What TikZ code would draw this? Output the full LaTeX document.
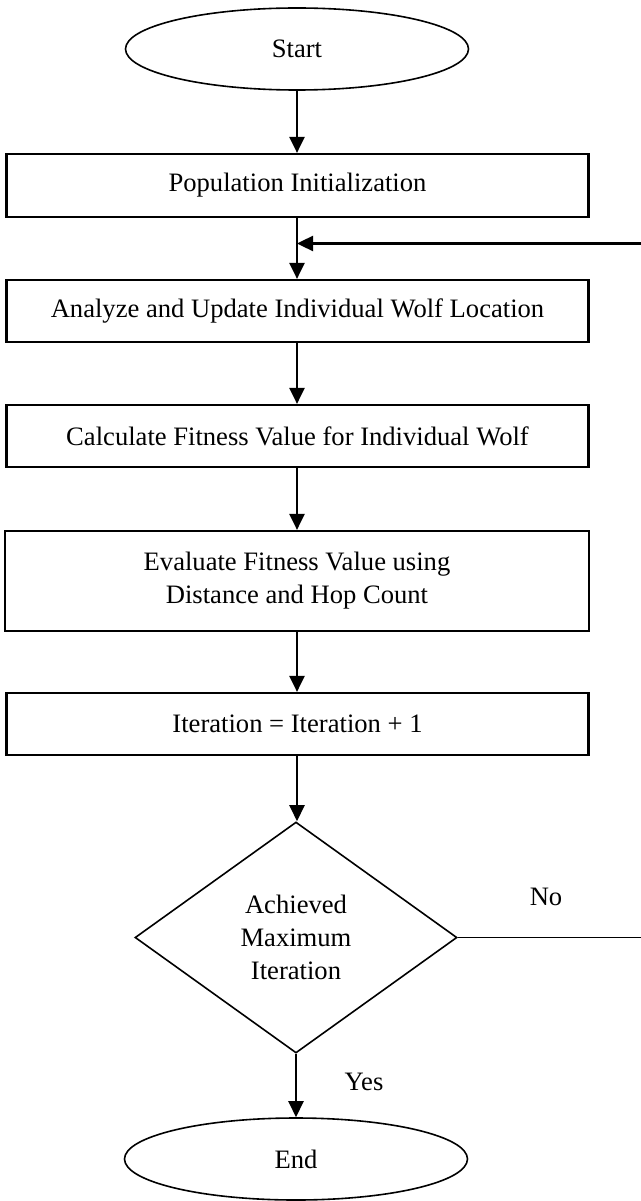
\documentclass[tikz,border=0pt]{standalone}
\usepackage{fontspec}
\setmainfont{Liberation Serif}
\usetikzlibrary{shapes.geometric,arrows.meta}
\tikzset{
  txt/.style={font=\fontsize{26.6}{33}\selectfont},
  procbox/.style={txt, draw, line width=2.2pt, rectangle, minimum width=582pt, inner sep=0pt, align=center},
  termnode/.style={txt, draw, line width=1.6pt, ellipse, minimum width=343pt, minimum height=82pt, inner sep=0pt},
  decnode/.style={txt, draw, line width=1.6pt, diamond, minimum width=322pt, minimum height=231pt, inner sep=0pt, align=center},
  flow/.style={line width=2.4pt, -{Triangle[length=16pt,width=15pt]}},
  plainline/.style={line width=1.8pt}
}
\begin{document}
\begin{tikzpicture}[x=1pt,y=-1pt]
\useasboundingbox (0,0) rectangle (640,1201);
\node[termnode] (start) at (297,49) {Start};
\node[procbox, minimum height=63pt] (b1) at (297.5,185.5) {Population Initialization};
\node[procbox, minimum height=62pt] (b2) at (297.5,311) {Analyze and Update Individual Wolf Location};
\node[procbox, minimum height=62pt] (b3) at (297.5,436) {Calculate Fitness Value for Individual Wolf};
\node[procbox, minimum height=100pt, minimum width=584pt] (b4) at (297,581) {Evaluate Fitness Value using\\Distance and Hop Count};
\node[procbox, minimum height=62pt] (b5) at (297.5,724) {Iteration = Iteration + 1};
\node[decnode] (dec) at (296,937.5) {Achieved\\Maximum\\Iteration};
\node[termnode] (end) at (296,1159) {End};
\node[txt] (no) at (546,897) {No};
\node[txt] (yes) at (364,1082) {Yes};
\coordinate (ret) at (641,243.5);
\coordinate (noend) at (641,937.5);
\draw[flow] (start.south) -- (start.south |- b1.north);
\draw[flow] (b1.south -| start.south) -- (start.south |- b2.north);
\draw[flow] (ret) -- (ret -| start.south);
\draw[flow] (b2.south -| start.south) -- (start.south |- b3.north);
\draw[flow] (b3.south -| start.south) -- (start.south |- b4.north);
\draw[flow] (b4.south -| start.south) -- (start.south |- b5.north);
\draw[flow] (b5.south -| start.south) -- (start.south |- dec.north);
\draw[flow] (dec.south) -- (end.north);
\draw[plainline] (dec.east) -- (noend);
\end{tikzpicture}
\end{document}
